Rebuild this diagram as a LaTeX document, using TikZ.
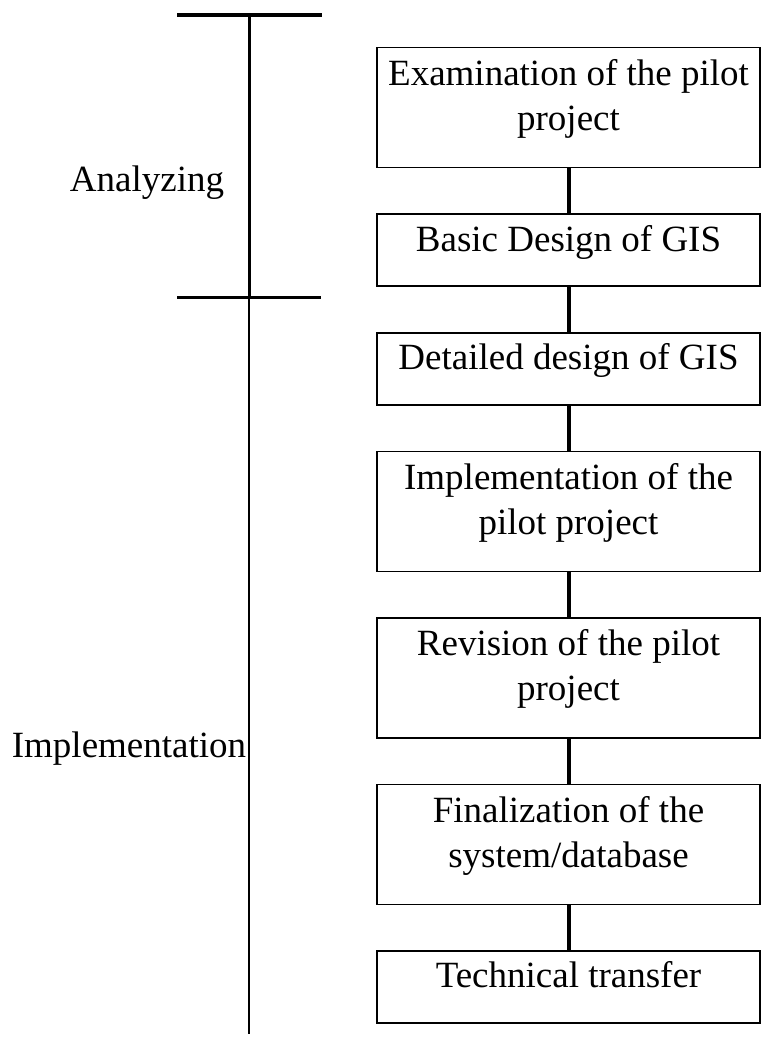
\documentclass[tikz,border=0pt]{standalone}
\usepackage{fontspec}
\setmainfont{Liberation Serif}
\usetikzlibrary{positioning}

\begin{document}
\begin{tikzpicture}[
    x=1pt, y=-1pt,
    node distance=45pt,
    every node/.style={font=\fontsize{37}{45}\selectfont},
    stage/.style={rectangle, draw, line width=1.5pt, minimum width=383pt, align=center, inner sep=0pt},
    tall/.style={stage, minimum height=120pt, text height=83pt, text depth=37pt},
    short/.style={stage, minimum height=72pt, text height=37pt, text depth=35pt},
    link/.style={line width=4pt},
    phase/.style={anchor=base}
]
    \useasboundingbox (0,0) rectangle (762,1048);

    % stages of the work
    \node[tall, anchor=north] (exam)    at (568.5,47) {Examination of the pilot\\project};
    \node[short, below=of exam]         (basic)   {Basic Design of GIS};
    \node[short, below=of basic]        (detail)  {Detailed design of GIS};
    \node[tall,  below=of detail]       (impl)    {Implementation of the\\pilot project};
    \node[tall,  below=of impl]         (rev)     {Revision of the pilot\\project};
    \node[tall,  below=of rev]          (final)   {Finalization of the\\system/database};
    \node[short, below=of final]        (transfer) {Technical transfer};

    \draw[link] (exam)   -- (basic);
    \draw[link] (basic)  -- (detail);
    \draw[link] (detail) -- (impl);
    \draw[link] (impl)   -- (rev);
    \draw[link] (rev)    -- (final);
    \draw[link] (final)  -- (transfer);

    % phase axis
    \draw[line width=4pt]   (177,15)  -- (322,15);
    \draw[line width=3pt]   (249,15)  -- (249,297);
    \draw[line width=3pt]   (177,297) -- (321,297);
    \draw[line width=1.5pt] (249,297) -- (249,1034);

    \node[phase] (analyzing)      at (147,192) {Analyzing};
    \node[phase] (implementation) at (129,757) {Implementation};
\end{tikzpicture}
\end{document}
